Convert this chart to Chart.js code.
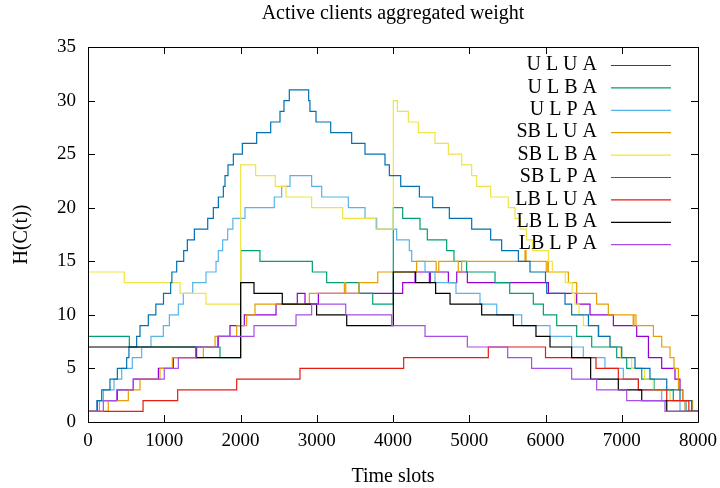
<!DOCTYPE html>
<html>
<head>
<meta charset="utf-8">
<title>Active clients aggregated weight</title>
<script src="https://cdn.jsdelivr.net/npm/chart.js@4.4.1/dist/chart.umd.min.js"></script>
<style>
  html, body { margin: 0; padding: 0; background: #fff; }
  #wrap { width: 720px; height: 488px; }
</style>
</head>
<body>
<div id="wrap"><canvas id="chart" width="720" height="488"></canvas></div>
<script>
// --- chart text ---
const chartTitle = 'Active clients aggregated weight';
const xTitle = 'Time slots';
const yTitle = 'H(C(t))';
const xTickValues = [0, 1000, 2000, 3000, 4000, 5000, 6000, 7000, 8000];
const yTickValues = [0, 5, 10, 15, 20, 25, 30, 35];

const seriesNames = ['U L U A', 'U L B A', 'U L P A', 'SB L U A', 'SB L B A',
                     'SB L P A', 'LB L U A', 'LB L B A', 'LB L P A'];
const seriesColors = ['#9400d3', '#009e73', '#56b4e9', '#e69f00', '#f0e442',
                      '#0072b2', '#e51e10', '#000000', '#a64ee6'];

// --- series: time of each change, value held from that time on ---
const uluaT = [0,122,385,594,923,1119,1425,1709,1862,2050,2466,2745,2846,3021,4127,4289,4477,4490,4726,4836,4975,6038,6409,6584,6890,7196,7350,7524,7698,7764,7800,7830,8000];
const uluaV = [1,2,3,4,5,6,7,8,9,10,11,12,11,12,13,14,13,14,13,14,13,12,11,10,9,8,6,5,4,3,2,1,1];

const ulbaT = [0,542,1731,2002,2255,2942,3130,3554,3734,4004,4127,4354,4450,4704,4800,4966,5338,5531,5840,5972,6147,6409,6606,6934,7065,7262,7423,7676,7843,8000];
const ulbaV = [8,7,6,16,15,14,13,12,11,20,19,18,17,16,15,14,13,12,11,10,9,8,7,6,5,4,3,2,1,1];

const ulpaT = [0,150,201,341,442,581,704,826,988,1067,1185,1250,1373,1548,1679,1709,1766,1832,1900,2059,2443,2540,2649,2933,3065,3414,3633,3786,4048,4214,4245,4420,4551,4826,5141,5360,5688,6059,6343,6496,6780,7021,7218,7524,7764,8000];
const ulpaV = [1,2,3,4,5,6,7,8,9,10,11,12,13,14,15,16,17,18,19,20,21,22,23,22,21,20,19,18,17,16,15,14,13,12,11,10,9,8,7,6,5,4,3,2,1,1];

const sbluaT = [0,266,529,682,944,1106,1513,1666,1950,2081,2190,2903,3362,3380,3554,3800,4310,4566,4600,4856,4900,5731,5745,6010,6030,6037,6300,6409,6670,6824,7150,7160,7187,7415,7524,7633,7685,7743,7800,7930,8000];
const sbluaV = [1,2,3,4,5,6,7,8,9,10,11,12,13,12,13,14,15,14,15,14,15,16,15,14,15,14,13,12,11,10,9,10,9,8,7,6,5,3,2,1,1];

const sblbaT = [0,476,1207,1548,2002,2199,2457,2597,2933,3340,3773,4004,4057,4201,4332,4551,4726,4901,5032,5097,5281,5512,5600,5666,5750,5830,6038,6090,6260,6350,6387,6440,6496,6706,6846,6990,7130,7300,7414,7633,7830,8000];
const sblbaV = [14,13,12,11,24,23,22,21,20,19,18,30,29,28,27,26,25,24,23,22,21,20,19,18,17,16,15,14,13,12,11,10,9,8,7,6,5,4,3,2,1,1];

const sblpaT = [0,118,180,288,385,507,537,638,682,791,890,990,1084,1100,1163,1255,1303,1395,1570,1644,1710,1775,1797,1836,1906,2024,2212,2396,2518,2570,2640,2894,2911,2990,3183,3458,3633,3895,3952,4101,4346,4521,4739,5032,5281,5425,5644,5797,6000,6016,6256,6343,6563,6693,6846,7000,7174,7370,7590,7764,7917,8000];
const sblpaV = [1,2,3,4,5,6,7,8,9,10,11,12,13,14,15,16,17,18,19,20,21,22,23,24,25,26,27,28,29,30,31,30,29,28,27,26,25,24,23,22,21,20,19,18,17,16,15,14,13,12,11,10,9,8,7,6,5,4,3,2,1,1];

const lbluaT = [0,722,1176,1950,2780,4140,5250,6000,6662,6955,7218,7590,7880,8000];
const lbluaV = [1,2,3,4,5,6,7,6,5,4,3,2,1,1];

const lblbaT = [0,1416,2002,2177,2548,2998,3393,4004,4297,4559,4748,5163,5578,5875,6059,6343,6592,6955,7262,7590,8000];
const lblbaV = [7,6,13,12,11,10,9,14,13,12,11,10,9,8,7,6,4,3,2,1,1];

const lblpaT = [0,201,376,594,1000,1185,1416,1700,2177,2728,2933,3380,3983,4420,4975,5504,5818,6343,6671,7065,7567,8000];
const lblpaV = [1,2,3,4,5,6,7,8,9,10,11,10,9,8,7,6,5,4,3,2,1,1];

const seriesTimes = [uluaT, ulbaT, ulpaT, sbluaT, sblbaT, sblpaT, lbluaT, lblbaT, lblpaT];
const seriesValues = [uluaV, ulbaV, ulpaV, sbluaV, sblbaV, sblpaV, lbluaV, lblbaV, lblpaV];

const FONT = '"Liberation Serif", "DejaVu Serif", serif';

// gnuplot style frame: box, inward ticks on all sides, key, titles
const gnuplotFrame = {
    id: 'gnuplotFrame',
    afterDatasetsDraw(chart) {
        const { ctx, chartArea: a, scales } = chart;
        const xs = scales.x, ys = scales.y;
        ctx.save();
        ctx.strokeStyle = '#000';
        ctx.lineWidth = 1;
        ctx.beginPath();
        ctx.rect(Math.round(a.left) + 0.5, Math.round(a.top) + 0.5,
                 Math.round(a.right - a.left), Math.round(a.bottom - a.top));
        ctx.stroke();

        const tick = 7;
        ctx.beginPath();
        xTickValues.forEach(v => {
            const px = Math.round(xs.getPixelForValue(v)) + 0.5;
            ctx.moveTo(px, a.bottom); ctx.lineTo(px, a.bottom - tick);
            ctx.moveTo(px, a.top); ctx.lineTo(px, a.top + tick);
        });
        yTickValues.forEach(v => {
            const py = Math.round(ys.getPixelForValue(v)) + 0.5;
            ctx.moveTo(a.left, py); ctx.lineTo(a.left + tick, py);
            ctx.moveTo(a.right, py); ctx.lineTo(a.right - tick, py);
        });
        ctx.stroke();

        // key
        ctx.font = '20px ' + FONT;
        ctx.fillStyle = '#000';
        ctx.textAlign = 'right';
        ctx.textBaseline = 'middle';
        seriesNames.forEach((name, i) => {
            const ry = 65 + i * 22.4;
            ctx.fillText(name, 597, ry);
            ctx.strokeStyle = seriesColors[i];
            ctx.lineWidth = 1.2;
            ctx.beginPath();
            ctx.moveTo(611, ry + 0.5);
            ctx.lineTo(671, ry + 0.5);
            ctx.stroke();
        });

        // titles
        const cx = (a.left + a.right) / 2;
        ctx.textAlign = 'center';
        ctx.fillText(chartTitle, cx, 14);
        ctx.fillText(xTitle, cx, 477);
        ctx.translate(22, (a.top + a.bottom) / 2);
        ctx.rotate(-Math.PI / 2);
        ctx.fillText(yTitle, 0, 0);
        ctx.restore();
    }
};

const datasets = seriesNames.map((name, i) => ({
    label: name,
    data: seriesTimes[i].map((t, j) => ({ x: t, y: seriesValues[i][j] })),
    borderColor: seriesColors[i],
    borderWidth: 1.2,
    pointRadius: 0,
    fill: false,
    stepped: true,
    order: seriesNames.length - i
}));

new Chart(document.getElementById('chart'), {
    type: 'line',
    data: { datasets },
    options: {
        responsive: false,
        animation: false,
        layout: { padding: { top: 47, right: 22, left: 0, bottom: 0 } },
        plugins: {
            legend: { display: false },
            title: { display: false },
            tooltip: { enabled: false }
        },
        scales: {
            x: {
                type: 'linear',
                min: 0, max: 8000,
                afterFit: s => { s.height = 66; s.paddingLeft = 0; s.paddingRight = 0; },
                afterBuildTicks: s => { s.ticks = xTickValues.map(v => ({ value: v })); },
                ticks: {
                    color: '#000', font: { family: FONT, size: 19 }, padding: 8, maxRotation: 0,
                    callback: v => String(v)
                },
                grid: { display: false, drawTicks: false },
                border: { display: false }
            },
            y: {
                type: 'linear',
                min: 0, max: 35,
                afterFit: s => { s.width = 88; s.paddingTop = 0; s.paddingBottom = 0; },
                afterBuildTicks: s => { s.ticks = yTickValues.map(v => ({ value: v })); },
                ticks: {
                    color: '#000', font: { family: FONT, size: 19 }, padding: 12,
                    callback: v => String(v)
                },
                grid: { display: false, drawTicks: false },
                border: { display: false }
            }
        }
    },
    plugins: [gnuplotFrame]
});
</script>
</body>
</html>
